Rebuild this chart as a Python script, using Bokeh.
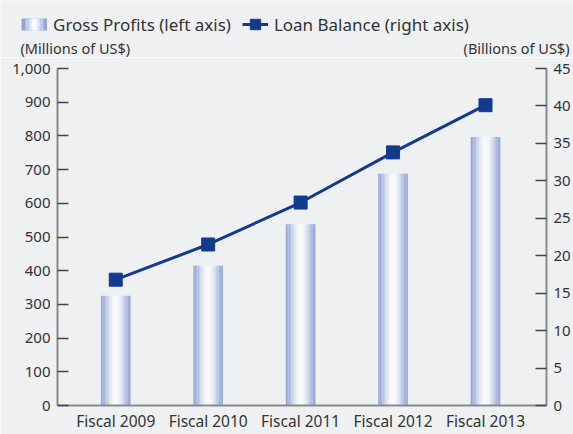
import math
from bokeh.plotting import figure
from bokeh.layouts import column
from bokeh.models import (Range1d, LinearAxis, FixedTicker, NumeralTickFormatter,
                          Legend, LegendItem, Label)
from bokeh.embed import file_html
from bokeh.resources import INLINE

categories = ["Fiscal 2009", "Fiscal 2010", "Fiscal 2011", "Fiscal 2012", "Fiscal 2013"]
gross_profits = [326, 415, 538, 688, 797]        # millions of US$ (left axis)
loan_balance = [16.8, 21.5, 27.1, 33.8, 40.1]     # billions of US$ (right axis)
left_ticks = list(range(0, 1001, 100))
right_ticks = list(range(0, 46, 5))

FONT = "Noto Sans"
BG = "#eff0f2"
AX = "#8a8a8a"
TXT = "#333333"
NAVY = "#143a8c"
EDGE = (148, 166, 213)
CENTER = (250, 251, 253)


def shade(f):
    return "#%02x%02x%02x" % tuple(int(round(EDGE[j] + (CENTER[j] - EDGE[j]) * f)) for j in range(3))


xs = list(range(len(categories)))

# ---------------- header (legend + unit labels) ----------------
HH = 57
h = figure(width=573, height=HH, output_backend="svg", toolbar_location=None,
           x_range=Range1d(0, 573), y_range=Range1d(0, HH),
           x_axis_type=None, y_axis_type=None,
           min_border_left=0, min_border_right=0, min_border_top=0, min_border_bottom=0,
           background_fill_color=BG, border_fill_color=BG, outline_line_color=None)
h.frame_align = False
h.xgrid.visible = False
h.ygrid.visible = False

h.add_layout(Label(x=20, y=HH - 47.5, x_units="screen", y_units="screen", text="(Millions of US$)",
                   text_font=FONT, text_font_size="14.5px", text_color=TXT,
                   text_baseline="alphabetic"))
h.add_layout(Label(x=569, y=HH - 47.5, x_units="screen", y_units="screen", text="(Billions of US$)",
                   text_font=FONT, text_font_size="14.5px", text_color=TXT,
                   text_align="right", text_baseline="alphabetic"))

# legend key for the gradient bars: stacked thick line bands (edge -> centre)
swatch = []
for dash, f in [(None, 0.0), ("0 4 18 100", 0.45), ("0 8 10 100", 0.8), ("0 11 4 100", 1.0)]:
    kw = dict(line_color=shade(f), line_width=12, line_cap="butt")
    if dash:
        kw["line_dash"] = dash
    swatch.append(h.line([-100, -99], [-50, -50], **kw))
lg_line = h.line([-100, -99], [-50, -50], line_color=NAVY, line_width=3)
lg_mark = h.scatter([-100], [-50], marker="square", size=12, fill_color=NAVY, line_color=NAVY)

leg = Legend(items=[LegendItem(label="Gross Profits (left axis)", renderers=swatch),
                    LegendItem(label="Loan Balance (right axis)", renderers=[lg_line, lg_mark])],
             orientation="horizontal", location=(21, HH - 39), padding=0, margin=0, spacing=11,
             border_line_color=None, background_fill_alpha=0,
             glyph_width=26, glyph_height=30, label_height=30, label_standoff=6,
             label_text_font=FONT, label_text_font_size="17px", label_text_color=TXT)
h.add_layout(leg, "center")

# ---------------- main chart ----------------
p = figure(width=573, height=434 - HH, output_backend="svg", toolbar_location=None,
           x_range=Range1d(-0.63, 4.66), y_range=Range1d(0, 1000),
           min_border_left=57, min_border_right=27, min_border_top=68 - HH, min_border_bottom=26,
           background_fill_color=BG, border_fill_color=BG, outline_line_color=None)
p.frame_align = False
p.xgrid.visible = False
p.ygrid.visible = False
p.extra_y_ranges = {"loan": Range1d(0, 45)}

# bars with a horizontal gradient, drawn as thin strips
N = 21
bw = 0.32
for k in range(N):
    t = (k + 0.5) / N
    f = math.cos((t - 0.5) * math.pi) ** 1.6
    off = -bw / 2 + t * bw
    p.vbar(x=[x + off for x in xs], top=gross_profits, width=bw / N * 1.05,
           fill_color=shade(f), line_color=None)

p.line(xs, loan_balance, y_range_name="loan", line_color=NAVY, line_width=3)
p.scatter(xs, loan_balance, y_range_name="loan", marker="square", size=13,
          fill_color=NAVY, line_color=NAVY)


def style_axis(a):
    a.major_tick_in = 11
    a.major_tick_out = 0
    a.minor_tick_line_color = None
    a.axis_line_color = AX
    a.axis_line_width = 2
    a.major_tick_line_color = "#444444"
    a.major_tick_line_width = 1.5
    a.major_label_text_font = FONT
    a.major_label_text_font_size = "15px"
    a.major_label_text_color = TXT
    a.major_label_standoff = 7


ya = p.yaxis[0]
ya.ticker = FixedTicker(ticks=left_ticks)
ya.formatter = NumeralTickFormatter(format="0,0")
style_axis(ya)

ra = LinearAxis(y_range_name="loan", ticker=FixedTicker(ticks=right_ticks))
style_axis(ra)
p.add_layout(ra, "right")

xa = p.xaxis[0]
xa.ticker = FixedTicker(ticks=xs)
xa.major_label_overrides = {i: c for i, c in enumerate(categories)}
xa.major_tick_in = 0
xa.major_tick_out = 0
xa.minor_tick_line_color = None
xa.axis_line_color = AX
xa.axis_line_width = 2
xa.major_label_text_font = FONT
xa.major_label_text_font_size = "15.5px"
xa.major_label_text_color = TXT
xa.major_label_standoff = 4

layout = column(h, p, spacing=0)
open("out.html", "w").write(file_html(layout, INLINE))
